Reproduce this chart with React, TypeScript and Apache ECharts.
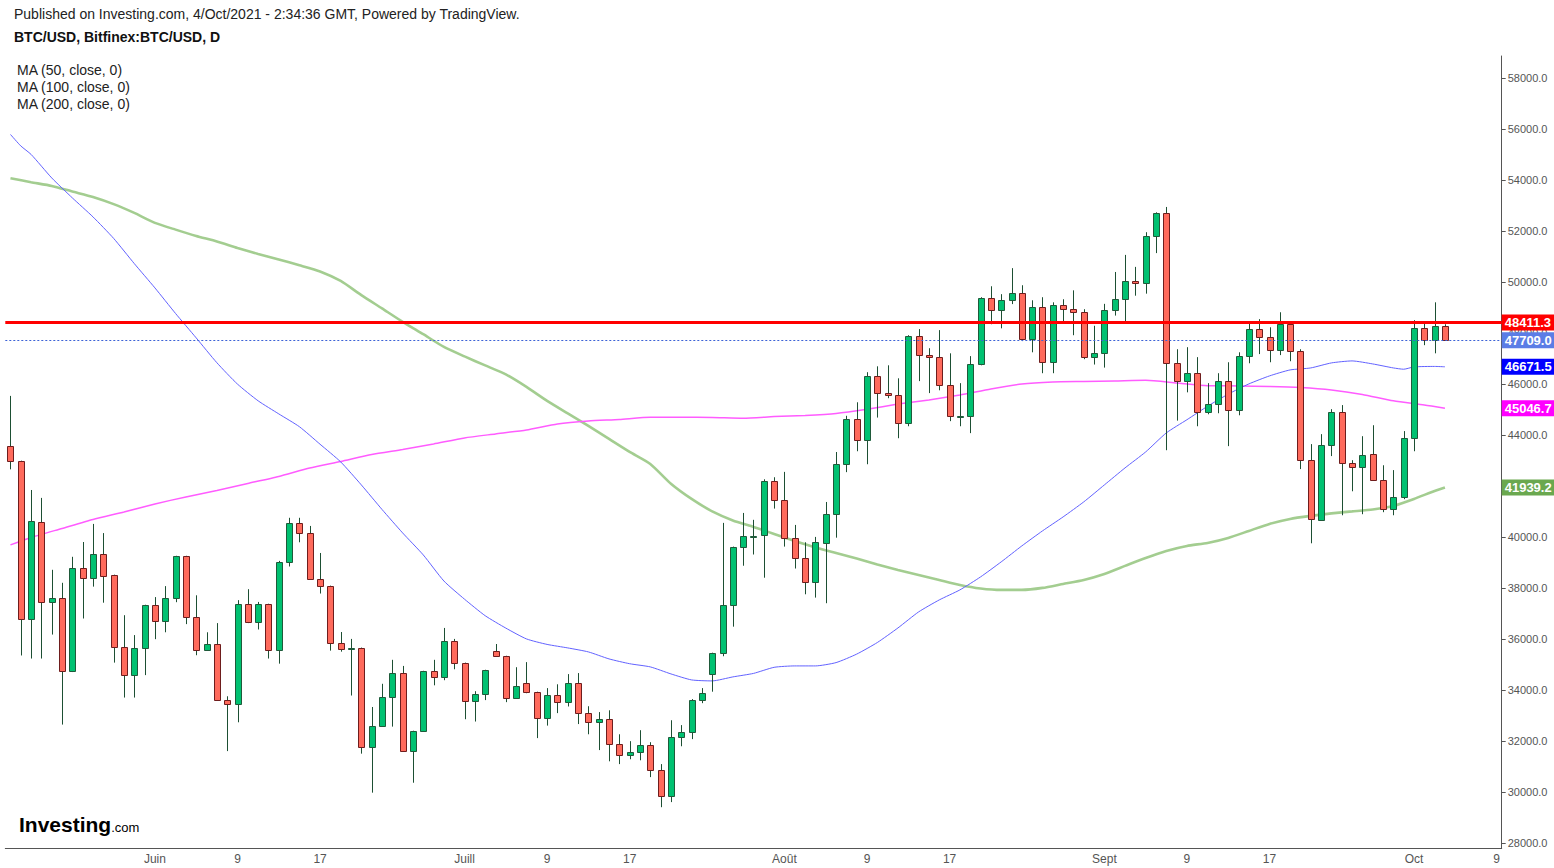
import React, { useEffect, useRef } from "react";
import * as echarts from "echarts";

// ---------- categories (daily, 18 May 2021 -> 9 Oct 2021) ----------
const START_UTC = Date.UTC(2021, 4, 18);
const DAY_COUNT = 145;
const categories: string[] = Array.from({ length: DAY_COUNT }, (_, i) => {
  const d = new Date(START_UTC + i * 86400000);
  return `${d.getUTCFullYear()}-${String(d.getUTCMonth() + 1).padStart(2, "0")}-${String(d.getUTCDate()).padStart(2, "0")}`;
});
const monthNamesFr = ["Janv", "Févr", "Mars", "Avr", "Mai", "Juin", "Juill", "Août", "Sept", "Oct", "Nov", "Déc"];
const labeledDays = [1, 9, 17];

// ---------- OHLC (BTC/USD daily, Bitfinex) ----------
const opens = [
  43560, 42970, 36770, 40580, 37440, 37600, 34730, 38770, 38380, 39320, 38500, 35670, 34580, 35640,
  37320, 36690, 37600, 39240, 36850, 35560, 35790, 33600, 33440, 37360, 36660, 37360, 35560, 39010, 40540, 40150,
  38340, 38070, 35830, 35600, 35640, 31750, 32580, 33710, 34660, 31600, 32380, 34730, 34500, 35910,
  35050, 33560, 33830, 35520, 35320, 33670, 34260, 33910, 32890, 33790, 33520, 34260, 33090, 32730, 32850, 31870,
  31440, 31560, 31830, 30850, 29830, 32150, 32340, 33600, 34620, 35440, 37320, 39600, 40030, 40060, 42180,
  41440, 39950, 39160, 38220, 39750, 40890, 42850, 44620, 43790, 46300, 45640, 45560, 44460, 47870, 47130,
  47050, 45950, 44730, 44760, 46770, 49360, 48890, 49280, 49560, 47750, 49010, 46850, 49090, 48930, 48810, 47050,
  47200, 48890, 49320, 50030, 49950, 51790, 52690, 46810, 46110, 46420, 44890, 45200, 46110, 44970, 47090,
  48150, 47830, 47320, 48340, 47280, 43010, 40660, 43600, 44890, 42890, 42730, 43240, 42220, 41090, 41560,
  43870, 48180, 47710, 48260,
];
const closes = [
  42970, 36770, 40620, 37440, 37600, 34730, 38770, 38380, 39320, 38460, 35670, 34580, 35640, 37320,
  36690, 37600, 39240, 36850, 35560, 35790, 33600, 33440, 37360, 36660, 37360, 35560, 39010, 40540, 40150, 38340,
  38070, 35830, 35600, 35650, 31750, 32580, 33710, 34660, 31600, 32380, 34730, 34500, 35910, 35050,
  33560, 33830, 34770, 35320, 33670, 34150, 33910, 32890, 33790, 33520, 34260, 33090, 32730, 32850, 31870, 31440,
  31560, 31830, 30850, 29830, 32150, 32340, 33600, 33870, 35440, 37320, 39600, 40030, 40050, 42180, 41440,
  39950, 39160, 38220, 39790, 40890, 42850, 44620, 43790, 46300, 45640, 45560, 44460, 47870, 47130, 47050,
  45950, 44730, 44760, 46770, 49360, 48890, 49280, 49560, 47750, 49010, 46850, 49090, 48930, 48810, 47050, 47200,
  48890, 49320, 50030, 49950, 51790, 52690, 46810, 46110, 46420, 44890, 45200, 46110, 44970, 47090, 48150,
  47830, 47320, 48340, 47280, 43010, 40690, 43600, 44890, 42890, 42730, 43200, 42220, 41090, 41560, 43870,
  48180, 47710, 48260, 47709,
];
const lows = [
  42650, 35350, 35230, 35230, 36170, 32640, 34700, 36800, 38050, 37420, 35070, 33700, 33700, 34580,
  35990, 36260, 37440, 36580, 35360, 35540, 33580, 31600, 32730, 36620, 36370, 35230, 35030, 38840, 39790, 38320,
  37780, 35540, 35500, 33780, 31500, 29970, 32560, 32560, 31580, 30360, 32360, 34180, 34380, 34810,
  32850, 32760, 33600, 35300, 33520, 33650, 33870, 32110, 32600, 33090, 33350, 32660, 32260, 31640, 31200, 31090,
  31280, 31240, 30580, 29400, 29600, 31790, 32070, 33480, 33930, 35320, 36480, 38870, 39310, 38400, 41110,
  39620, 38760, 37750, 37620, 37400, 39970, 42540, 43360, 42850, 44680, 45440, 43870, 44340, 46110, 45640,
  45750, 44540, 44340, 44070, 46730, 48340, 48180, 49130, 47680, 47240, 46420, 46420, 48460, 47910, 46970, 46760,
  46640, 48680, 48400, 49460, 49540, 51130, 43400, 44560, 45670, 44340, 44810, 44850, 43560, 44770, 46810,
  47170, 46850, 47130, 46890, 42660, 39750, 40640, 43170, 40850, 41790, 40890, 42200, 40970, 40850, 41480,
  43360, 47520, 47200, 47700,
];
const highs = [
  45530, 42990, 41840, 41530, 38710, 38200, 39220, 39800, 40510, 40150, 38520, 36930, 36150, 37340,
  37640, 38070, 39260, 39260, 37710, 36260, 36620, 33750, 37520, 37950, 37450, 37380, 39060, 40750, 40750, 40430,
  39370, 38090, 36270, 36000, 35660, 33330, 34240, 35180, 34940, 32400, 34750, 35180, 36430, 36000,
  35070, 33950, 34790, 35800, 35340, 34890, 35090, 33930, 34070, 34220, 34620, 34660, 33360, 33130, 33200, 32260,
  31990, 32420, 31950, 31090, 32810, 32620, 33640, 34070, 35460, 40550, 39620, 40940, 40670, 42260, 42340,
  42550, 40470, 39790, 40000, 41370, 43330, 44750, 45280, 46460, 46690, 46730, 46220, 47910, 48150, 47400,
  48110, 47200, 46030, 47090, 49400, 49830, 49520, 50540, 49870, 49280, 49400, 49200, 49320, 49670, 48930, 48280,
  49140, 50390, 51060, 50590, 51950, 52730, 52940, 47360, 47440, 47050, 46030, 46420, 46850, 47240, 48460,
  48540, 48220, 48810, 48420, 47360, 43640, 44030, 45010, 45170, 43010, 43950, 44380, 42810, 42620, 44150,
  48500, 48380, 49200, 48340,
];

// ---------- moving averages: [day index, value] ----------
const ma50: [number, number][] = [
  [0, 55784], [1, 55333], [2, 55000], [4, 54078], [6, 53294], [8, 52549], [10, 51706], [12, 50718],
  [14, 49765], [16, 48761], [18, 47804], [20, 46831], [22, 45992], [24, 45337], [26, 44824], [28, 44321],
  [30, 43635], [32, 42941], [34, 42039], [36, 41078], [38, 40157], [40, 39294], [42, 38271], [44, 37557],
  [46, 36910], [48, 36424], [50, 36000], [52, 35784], [54, 35647], [56, 35490], [58, 35216], [60, 35027],
  [62, 34902], [64, 34627], [66, 34392], [68, 34353], [70, 34510], [72, 34647], [74, 34886], [76, 34941],
  [78, 34941], [80, 35071], [82, 35404], [84, 35859], [86, 36431], [88, 37059], [90, 37529], [92, 37922],
  [94, 38431], [96, 39020], [98, 39647], [100, 40235], [102, 40784], [104, 41373], [106, 42039], [108, 42706],
  [110, 43333], [112, 44078], [114, 44596], [116, 45125], [118, 45600], [120, 46000], [122, 46314], [124, 46549],
  [126, 46627], [128, 46824], [130, 46902], [132, 46784], [134, 46627], [135, 46576], [136, 46667], [138, 46686],
  [139, 46671.5],
];
const ma100: [number, number][] = [
  [0, 39686], [2, 39980], [5, 40333], [8, 40686], [11, 40980], [14, 41294], [17, 41569], [20, 41824],
  [23, 42098], [26, 42373], [29, 42706], [32, 42961], [35, 43235], [38, 43431], [41, 43647], [44, 43882],
  [47, 44039], [50, 44196], [53, 44431], [56, 44549], [59, 44608], [62, 44694], [65, 44694], [68, 44686],
  [71, 44655], [74, 44718], [77, 44765], [80, 44843], [83, 45008], [86, 45208], [89, 45373], [92, 45569],
  [95, 45804], [98, 46000], [101, 46078], [104, 46098], [107, 46118], [110, 46145], [113, 46039], [116, 45933],
  [119, 45922], [122, 45902], [125, 45859], [128, 45765], [131, 45588], [134, 45337], [137, 45176], [139, 45046.7],
];
const ma200: [number, number][] = [
  [0, 54067], [2, 53910], [4, 53765], [6, 53545], [8, 53333], [10, 53051], [12, 52706], [14, 52314],
  [16, 52051], [18, 51804], [20, 51588], [22, 51333], [24, 51098], [26, 50882], [28, 50655], [30, 50412],
  [32, 50039], [34, 49482], [36, 48961], [38, 48435], [40, 47949], [42, 47451], [44, 47078], [46, 46725],
  [48, 46373], [50, 45882], [52, 45333], [54, 44843], [56, 44353], [58, 43843], [60, 43333], [62, 42863],
  [64, 42086], [66, 41490], [68, 41000], [70, 40647], [72, 40392], [74, 40118], [76, 39843], [78, 39588],
  [80, 39372], [82, 39157], [84, 38921], [86, 38706], [88, 38510], [90, 38314], [92, 38118], [94, 37980],
  [96, 37922], [98, 37922], [100, 38000], [102, 38157], [104, 38314], [106, 38549], [108, 38863], [110, 39176],
  [112, 39451], [114, 39647], [116, 39765], [118, 39961], [120, 40235], [122, 40510], [124, 40706], [126, 40824],
  [128, 40922], [130, 41000], [132, 41078], [134, 41216], [136, 41490], [138, 41804], [139, 41939.2],
];

// ---------- reference levels ----------
const resistanceLevel = 48411.3;
const lastPrice = 47709.0;
const ma50Last = 46671.5;
const ma100Last = 45046.7;
const ma200Last = 41939.2;
const levelValues = [resistanceLevel, lastPrice, ma50Last, ma100Last, ma200Last];

const headerLine1 = "Published on Investing.com, 4/Oct/2021 - 2:34:36 GMT, Powered by TradingView.";
const headerLine2 = "BTC/USD, Bitfinex:BTC/USD, D";
const legendLines = ["MA (50, close, 0)", "MA (100, close, 0)", "MA (200, close, 0)"];

const UP_FILL = "#00c171";
const UP_BORDER = "#1f5a3a";
const DOWN_FILL = "#ff6a5c";
const DOWN_BORDER = "#6e1d1d";
const WICK = "#1d4f33";
const FONT = "'Liberation Sans', Arial, sans-serif";
const NARROW = "'Liberation Sans Narrow', 'Arial Narrow', 'Liberation Sans', sans-serif";

function levelLabel(value: number, bg: string) {
  return {
    show: true,
    position: "end",
    distance: 0,
    formatter: value.toFixed(1),
    backgroundColor: bg,
    color: "#ffffff",
    fontFamily: FONT,
    fontWeight: "bold",
    fontSize: 13,
    padding: [2, 4, 1, 3],
  };
}

function hiddenLevel(value: number, bg: string) {
  return {
    yAxis: value,
    lineStyle: { color: "rgba(0,0,0,0)", width: 1 },
    label: levelLabel(value, bg),
  };
}

export default function App() {
  const ref = useRef<HTMLDivElement>(null);

  useEffect(() => {
    if (!ref.current) return;
    const chart = echarts.init(ref.current, undefined, { renderer: "svg" });

    const candleData = opens.map((o, i) => [i, o, closes[i], lows[i], highs[i]]);

    const option: any = {
      animation: false,
      backgroundColor: "#ffffff",
      grid: { left: 5.3, right: 52.3, top: 56, bottom: 20, containLabel: false },
      xAxis: {
        type: "category",
        data: categories,
        boundaryGap: true,
        axisLine: { show: true, lineStyle: { color: "#555555", width: 1 } },
        axisTick: { show: false },
        splitLine: { show: false },
        axisLabel: {
          interval: (_i: number, v: string) => labeledDays.includes(Number(v.slice(8, 10))),
          formatter: (v: string) => {
            const day = Number(v.slice(8, 10));
            return day === 1 ? monthNamesFr[Number(v.slice(5, 7)) - 1] : String(day);
          },
          color: "#555555",
          fontSize: 12,
          fontFamily: NARROW,
          margin: 5,
        },
      },
      yAxis: {
        type: "value",
        position: "right",
        min: 27800,
        max: 58860,
        splitNumber: 15,
        minInterval: 2000,
        maxInterval: 2000,
        scale: true,
        axisLine: { show: true, lineStyle: { color: "#555555", width: 1 } },
        axisTick: { show: true, inside: false, length: 4, lineStyle: { color: "#555555" } },
        splitLine: { show: false },
        axisLabel: {
          showMinLabel: false,
          showMaxLabel: false,
          // a tick label that sits fully under a level tag is not visible in the original
          formatter: (v: number) => (levelValues.some((lv) => Math.abs(lv - v) < 150) ? "" : v.toFixed(1)),
          color: "#555555",
          fontSize: 11,
          fontFamily: FONT,
          margin: 6,
        },
      },
      series: [
        {
          name: "MA200",
          type: "line",
          data: ma200,
          showSymbol: false,
          smooth: 0.2,
          z: 2,
          lineStyle: { color: "#93c47d", width: 2.6, opacity: 0.85 },
        },
        {
          name: "MA100",
          type: "line",
          data: ma100,
          showSymbol: false,
          smooth: 0.2,
          z: 2,
          lineStyle: { color: "#ff5cff", width: 1.5 },
        },
        {
          name: "MA50",
          type: "line",
          data: ma50,
          showSymbol: false,
          smooth: 0.2,
          z: 2,
          lineStyle: { color: "#6262ff", width: 1 },
        },
        {
          name: "BTC/USD",
          type: "custom",
          z: 3,
          data: candleData,
          encode: { x: 0, y: [1, 2, 3, 4] },
          renderItem: (_params: any, api: any) => {
            const k = api.value(0);
            const o = api.value(1);
            const c = api.value(2);
            const l = api.value(3);
            const h = api.value(4);
            const pO = api.coord([k, o]);
            const yC = api.coord([k, c])[1];
            const yL = api.coord([k, l])[1];
            const yH = api.coord([k, h])[1];
            const bw = Math.round(api.size([1, 0])[0] * 0.6);
            const x = Math.round(pO[0]) + 0.5;
            const up = c >= o;
            const top = Math.round(Math.min(pO[1], yC)) + 0.5;
            const bot = Math.round(Math.max(pO[1], yC)) + 0.5;
            return {
              type: "group",
              children: [
                { type: "line", shape: { x1: x, y1: yH, x2: x, y2: yL }, style: { stroke: WICK, lineWidth: 1 } },
                {
                  type: "rect",
                  shape: { x: x - bw / 2, y: top, width: bw, height: Math.max(bot - top, 1) },
                  style: { fill: up ? UP_FILL : DOWN_FILL, stroke: up ? UP_BORDER : DOWN_BORDER, lineWidth: 1 },
                },
              ],
            };
          },
        },
        {
          name: "levels",
          type: "line",
          data: [],
          z: 5,
          markLine: {
            symbol: "none",
            silent: true,
            data: [
              hiddenLevel(ma200Last, "#6aa84f"),
              hiddenLevel(ma100Last, "#ff00ff"),
              hiddenLevel(ma50Last, "#0000ff"),
              {
                yAxis: lastPrice,
                lineStyle: { color: "#3d63d6", width: 1, type: [2, 2] },
                label: levelLabel(lastPrice, "#5b7de6"),
              },
              {
                yAxis: resistanceLevel,
                lineStyle: { color: "#ff0000", width: 3, type: "solid" },
                label: levelLabel(resistanceLevel, "#ff0000"),
              },
            ],
          },
        },
      ],
      graphic: [
        { type: "text", left: 14, top: 7, style: { text: headerLine1, fill: "#222222", font: `14px ${FONT}` } },
        { type: "text", left: 14, top: 30, style: { text: headerLine2, fill: "#111111", font: `bold 14px ${FONT}` } },
        ...legendLines.map((t, i) => ({
          type: "text",
          left: 17,
          top: 63 + i * 17,
          style: { text: t, fill: "#222222", font: `14px ${FONT}` },
        })),
        {
          type: "text",
          left: 19,
          top: 814,
          style: {
            text: "{a|Investing}{b|.com}",
            rich: {
              a: { fontFamily: FONT, fontWeight: "bold", fontSize: 21, color: "#111111" },
              b: { fontFamily: FONT, fontSize: 13, color: "#777777", padding: [5, 0, 0, 0] },
            },
          },
        },
      ],
    };

    chart.setOption(option);
    return () => chart.dispose();
  }, []);

  return (
    <div
      ref={ref}
      style={{ position: "absolute", left: 0, top: 0, width: 1554, height: 868, background: "#ffffff" }}
    />
  );
}
